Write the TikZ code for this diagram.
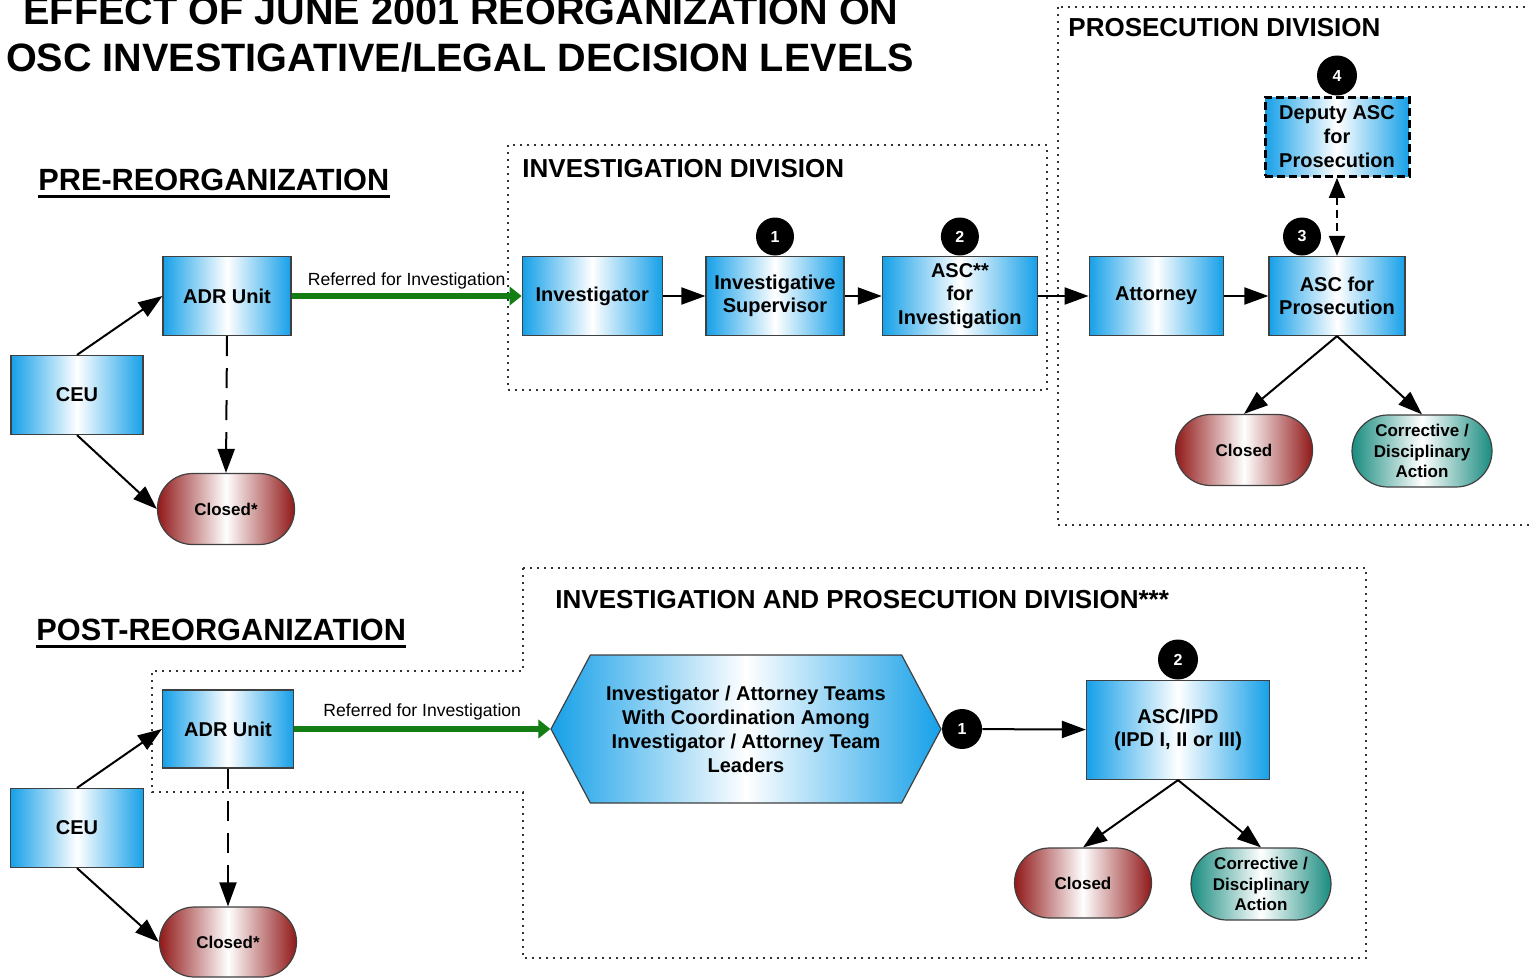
\documentclass[tikz,border=0pt]{standalone}
\usepackage{fontspec}
\setmainfont{Liberation Sans}
\usepackage{tikz}
\usetikzlibrary{shapes,arrows.meta,positioning}
\definecolor{boxblue}{RGB}{22,160,232}
\definecolor{closedred}{RGB}{145,25,25}
\definecolor{actionteal}{RGB}{25,140,128}
\definecolor{refgreen}{RGB}{20,125,20}
\tikzstyle{unit} = [rectangle, draw=black!75, line width=0.6pt, left color=boxblue, right color=boxblue, middle color=white, text=black, align=center, font=\bfseries\fontsize{10}{11.75}\selectfont, minimum height=39.5pt, inner sep=1pt]
\tikzstyle{hexa} = [signal, signal to=west and east, signal pointer angle=124, draw=black!75, line width=0.6pt, left color=boxblue, right color=boxblue, middle color=white, text=black, align=center, font=\bfseries\fontsize{10}{12}\selectfont, minimum width=195pt, minimum height=74pt, inner sep=1pt]
\tikzstyle{closed} = [rectangle, rounded corners=17.5pt, draw=black!75, line width=0.6pt, left color=closedred, right color=closedred, middle color=white, text=black, align=center, font=\bfseries\fontsize{8.5}{10.25}\selectfont, minimum width=68.5pt, minimum height=35.5pt, inner sep=1pt]
\tikzstyle{action} = [closed, rounded corners=18pt, left color=actionteal, right color=actionteal, middle color=white, minimum width=70pt, minimum height=36pt]
\tikzstyle{badge} = [circle, fill=black, text=white, font=\bfseries\fontsize{8}{9}\selectfont, minimum size=19pt, inner sep=0pt]
\tikzstyle{division} = [draw=black!80, line width=0.7pt, dash pattern=on 1pt off 2.5pt]
\tikzstyle{divlabel} = [anchor=base west, inner sep=0pt, font=\bfseries\fontsize{13}{15}\selectfont]
\tikzstyle{heading} = [anchor=base west, inner sep=0pt, font=\bfseries\fontsize{15.35}{18}\selectfont]
\tikzstyle{textonly} = [anchor=base, inner sep=0pt, font=\bfseries\fontsize{19.8}{24}\selectfont]
\tikzstyle{tedge}  = [draw, line width=1pt, -{Triangle[length=12pt,width=8.5pt]}]
\tikzstyle{dedge}  = [tedge, dash pattern=on 10pt off 6pt]
\tikzstyle{referral} = [draw=refgreen, line width=3pt, -{Triangle[length=6pt,width=9.5pt,line width=0.5pt]}]
\tikzstyle{reflabel} = [above=-1.5pt, midway, text=black, font=\fontsize{8.8}{10}\selectfont]

\begin{document}
\begin{tikzpicture}[x=0.5pt, y=-0.5pt]
\useasboundingbox (0,0) rectangle (1530,979);

% titles =============================
\node[textonly] (title1) at (461,25) {EFFECT OF JUNE 2001 REORGANIZATION ON};
\node[textonly] (title2) at (460,72) {OSC INVESTIGATIVE/LEGAL DECISION LEVELS};

\node[heading] (pre) at (38,190) {PRE-REORGANIZATION};
\draw[line width=1.5pt] ([yshift=-3pt]pre.base west) -- ([yshift=-3pt]pre.base east);
\node[heading] (post) at (36,640) {POST-REORGANIZATION};
\draw[line width=1.5pt] ([yshift=-3pt]post.base west) -- ([yshift=-3pt]post.base east);

% divisions
\draw[division] (508,145) rectangle (1047,390);
\node[divlabel] (invdiv) at (522,177) {INVESTIGATION DIVISION};
\draw[division] (1058,7) rectangle (1540,525);
\node[divlabel] (prosdiv) at (1068,37) {PROSECUTION DIVISION};
\draw[division] (523,568) -- (1366,568) -- (1366,958) -- (523,958) -- (523,792)
  -- (152,792) -- (152,671) -- (523,671) -- cycle;
\node[divlabel] (ipdiv) at (555,608) {INVESTIGATION AND PROSECUTION DIVISION***};

% pre-reorganization =============================
\node[unit, minimum width=66pt] (ceu) at (77,395) {CEU};
\node[unit, minimum width=64pt] (adr) at (227,296) {ADR Unit};
\node[closed] (clo) at (226,509) {Closed*};

\node[unit, minimum width=70pt, right=115pt of adr] (inv) {Investigator};
\node[unit, minimum width=69pt, right=21.3pt of inv] (sup) {Investigative\\Supervisor};
\node[unit, minimum width=77.5pt, right=18.6pt of sup] (asci) {ASC**\\for\\Investigation};
\node[unit, minimum width=67pt, right=25.3pt of asci] (att) {Attorney};
\node[unit, minimum width=68pt, right=22.3pt of att] (ascp) {ASC for\\Prosecution};
\node[unit, minimum width=72pt, draw=black, line width=1.5pt, dash pattern=on 4pt off 2pt,
  font=\bfseries\fontsize{10}{12}\selectfont, above=39pt of ascp] (dep) {Deputy ASC\\for\\Prosecution};

\node[closed] (clop) at (1244,450) {Closed};
\node[action] (actp) at (1422,451) {Corrective /\\Disciplinary\\Action};

\node[badge, above=0pt of sup] (b1) {1};
\node[badge, above=0pt of asci] (b2) {2};
\node[badge, above=0pt of ascp, xshift=-17.5pt] (b3) {3};
\node[badge, minimum size=20pt, above=0pt of dep] (b4) {4};

% edges pre
\path[tedge] (ceu.north) -- (adr.west);
\path[tedge] (ceu.south) -- (clo.west);
\path[dedge] (adr.south) -- (clo.north);
\path[referral] (adr.east) -- node[reflabel] {Referred for Investigation} (inv.west);
\path[tedge] (inv) -- (sup);
\path[tedge] (sup) -- (asci);
\path[tedge] (asci) -- (att);
\path[tedge] (att) -- (ascp);
\path[tedge, {Triangle[length=10pt,width=8pt]}-{Triangle[length=10pt,width=8pt]}, dash pattern=on 4pt off 2.5pt]
  (dep.south) -- (ascp.north);
\path[tedge] (ascp.south) -- (clop.north);
\path[tedge] (ascp.south) -- (actp.north);

% post-reorganization =============================
\node[unit, minimum width=66.5pt] (ceu2) at (77,828) {CEU};
\node[unit, minimum width=65.5pt, minimum height=39pt] (adr2) at (228,729) {ADR Unit};
\node[closed, minimum height=35pt] (clo2) at (228,942) {Closed*};

\node[hexa] (team) at (746,729) {Investigator / Attorney Teams\\With Coordination Among\\Investigator / Attorney Team\\Leaders};
\node[badge, minimum size=20pt, right=0pt of team] (c1) {1};
\node[unit, minimum width=91.5pt, minimum height=49.5pt] (ipd) at (1178,730) {ASC/IPD\\(IPD I, II or III)};
\node[badge, minimum size=20pt, above=0pt of ipd] (c2) {2};

\node[closed, minimum height=35pt] (clo3) at (1083,883) {Closed};
\node[action] (act2) at (1261,884) {Corrective /\\Disciplinary\\Action};

% edges post
\path[tedge] (ceu2.north) -- (adr2.west);
\path[tedge] (ceu2.south) -- (clo2.west);
\path[dedge] (adr2.south) -- (clo2.north);
\path[referral] (adr2.east) -- node[reflabel, above=-0.5pt] {Referred for Investigation} (team.west);
\path[tedge] (c1) -- (ipd);
\path[tedge] (ipd.south) -- (clo3.north);
\path[tedge] (ipd.south) -- (act2.north);

\end{tikzpicture}
\end{document}
